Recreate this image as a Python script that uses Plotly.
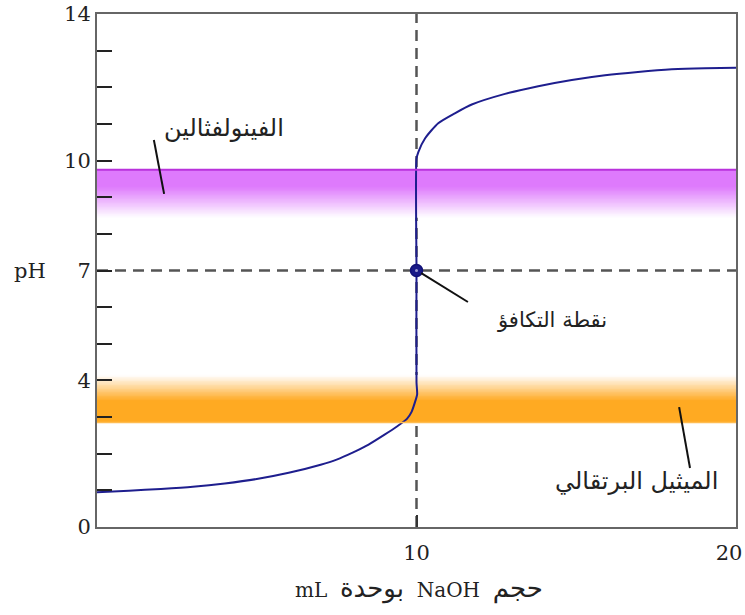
import plotly.graph_objects as go

# ---------------- data ----------------
volume_ml = [0, 1, 2, 3, 4, 5, 6, 7, 7.5, 8, 8.5, 9, 9.4, 9.7, 9.85, 9.95, 10.02, 10.0,
             10.0, 10.0, 10.06, 10.27, 10.68, 11.2, 11.73, 12.77, 13.81, 14.86, 15.9,
             16.93, 17.99, 19.03, 20]
ph_values = [0.95, 0.99, 1.04, 1.10, 1.19, 1.31, 1.48, 1.70, 1.84, 2.03, 2.25, 2.52, 2.75,
             2.95, 3.15, 3.40, 3.62, 3.95,
             7.0, 10.05, 10.24, 10.61, 11.02, 11.29, 11.53, 11.82, 12.03, 12.20, 12.33,
             12.42, 12.49, 12.52, 12.53]

equivalence_volume = [10]
equivalence_ph = [7]

y_tick_vals = list(range(0, 15))
y_tick_text = ["0", "", "", "", "4", "", "", "7", "", "", "10", "", "", "", "14"]
x_tick_vals = [10]
x_tick_text = ["10"]
x_end_tick_vals = [20]
x_end_tick_text = ["20"]

indicator_names = ["الفينولفثالين", "الميثيل البرتقالي"]
indicator_solid_edge = [9.75, 2.85]   # pH where the colour is strongest
indicator_solid_end = [9.30, 3.45]    # pH where fading starts
indicator_fade_edge = [8.45, 4.15]    # pH where colour vanishes
indicator_rgb = [(222, 122, 252), (255, 170, 34)]
equivalence_label = "نقطة التكافؤ"
y_title = "pH"

# ---------------- figure ----------------
fig = go.Figure()

# gradient bands drawn as smooth one-column heatmaps
n_steps = 60
for k in range(len(indicator_names)):
    r, g, b = indicator_rgb[k]
    s_edge, s_end, f_edge = indicator_solid_edge[k], indicator_solid_end[k], indicator_fade_edge[k]
    lo, hi = min(s_edge, f_edge), max(s_edge, f_edge)
    edges = [lo + (hi - lo) * i / n_steps for i in range(n_steps + 1)]
    z = []
    for i in range(n_steps):
        yc = 0.5 * (edges[i] + edges[i + 1])
        d = abs(yc - s_edge)
        solid = abs(s_end - s_edge)
        fade = abs(f_edge - s_end)
        val = 1.0 if d <= solid else max(0.0, 1 - (d - solid) / fade)
        z.append([val])
    fig.add_trace(go.Heatmap(x=[0, 20], y=edges, z=z, zmin=0, zmax=1,
                             colorscale=[[0, "rgb(255,255,255)"], [1, f"rgb({r},{g},{b})"]],
                             showscale=False, hoverinfo="skip", zsmooth="best"))

shapes = []
# edge lines of the bands
shapes.append(dict(type="line", xref="x", yref="y", x0=0, x1=20,
                   y0=indicator_solid_edge[0], y1=indicator_solid_edge[0],
                   line=dict(color="rgb(185,50,220)", width=2)))
shapes.append(dict(type="line", xref="x", yref="y", x0=0, x1=20,
                   y0=indicator_solid_edge[1], y1=indicator_solid_edge[1],
                   line=dict(color="rgb(255,188,80)", width=1.5)))

# dashed guide lines
dash_style = dict(color="#555555", width=2.5, dash="11px,7px")
shapes.append(dict(type="line", xref="x", yref="y", x0=equivalence_volume[0], x1=equivalence_volume[0],
                   y0=0, y1=14, line=dash_style, layer="below"))
shapes.append(dict(type="line", xref="x", yref="y", x0=0, x1=20,
                   y0=equivalence_ph[0], y1=equivalence_ph[0], line=dash_style, layer="below"))

# callout lines
callout = dict(color="#111111", width=2)
shapes.append(dict(type="line", xref="x", yref="y", x0=1.78, y0=10.56, x1=2.10, y1=9.09, line=callout))
shapes.append(dict(type="line", xref="x", yref="y", x0=10.15, y0=6.93, x1=11.61, y1=6.14, line=callout))
shapes.append(dict(type="line", xref="x", yref="y", x0=18.22, y0=3.27, x1=18.56, y1=1.61, line=callout))

fig.add_trace(go.Scatter(x=volume_ml, y=ph_values, mode="lines",
                         line=dict(color="#1e1e8e", width=2, shape="spline", smoothing=0.6),
                         hoverinfo="skip", showlegend=False))
# same curve on the overlay axis (invisible) so the second x axis is drawn
fig.add_trace(go.Scatter(x=volume_ml, y=ph_values, mode="lines", xaxis="x2",
                         line=dict(color="rgba(0,0,0,0)", width=0),
                         hoverinfo="skip", showlegend=False))
fig.add_trace(go.Scatter(x=equivalence_volume, y=equivalence_ph, mode="markers",
                         marker=dict(size=12, color="#1a1a88",
                                     line=dict(color="#111177", width=1.5)),
                         showlegend=False))
fig.add_trace(go.Scatter(x=equivalence_volume, y=equivalence_ph, mode="markers",
                         marker=dict(size=3, color="#9a9ad0"), showlegend=False))

arabic_font = dict(family="DejaVu Sans", size=24, color="#222222")
latin = "font-family:'DejaVu Serif';font-size:20px"
arab = "font-family:'DejaVu Sans';font-size:26px"
x_title = (f"<span style=\"{latin}\">mL</span>\u00a0 <span style=\"{arab}\">بوحدة</span>\u00a0 "
           f"<span style=\"{latin}\">NaOH</span>\u00a0 <span style=\"{arab}\">حجم</span>")

annotations = [
    dict(x=3.97, y=10.89, xref="x", yref="y", text=indicator_names[0], showarrow=False,
         font=arabic_font),
    dict(x=14.25, y=5.65, xref="x", yref="y", text=equivalence_label, showarrow=False,
         font=dict(family="DejaVu Sans", size=21, color="#222222")),
    dict(x=16.87, y=1.26, xref="x", yref="y", text=indicator_names[1], showarrow=False,
         font=arabic_font),
    dict(x=(30 - 97) / 639, y=7, xref="paper", yref="y", xanchor="center", text=y_title,
         showarrow=False, font=dict(family="DejaVu Serif", size=21, color="#222222")),
    dict(x=(419 - 97) / 639, y=(527 - 588) / 513, xref="paper", yref="paper",
         yanchor="middle", text=x_title, showarrow=False,
         font=dict(family="DejaVu Serif", size=20, color="#222222")),
]

tick_font = dict(family="DejaVu Serif", size=21, color="#222222")
fig.update_layout(
    width=745, height=615,
    margin=dict(l=97, r=9, t=14, b=88, autoexpand=False),
    plot_bgcolor="white", paper_bgcolor="white",
    shapes=shapes, annotations=annotations,
    showlegend=False,
    xaxis=dict(range=[0, 20], tickvals=x_tick_vals, ticktext=x_tick_text,
               ticks="inside", ticklen=12, tickwidth=2, tickcolor="#333333",
               showline=True, linecolor="#666666", linewidth=2, mirror=True,
               showgrid=False, zeroline=False, automargin=False,
               ticklabeloverflow="allow", ticklabelstandoff=6, tickfont=tick_font),
    xaxis2=dict(overlaying="x", anchor="y", side="bottom", range=[0, 20],
                tickvals=x_end_tick_vals, ticktext=x_end_tick_text,
                ticks="inside", ticklen=12, tickwidth=2, tickcolor="#333333",
                showline=False, showgrid=False, zeroline=False, automargin=False,
                ticklabelshift=-7, ticklabelstandoff=11, ticklabeloverflow="allow",
                tickfont=tick_font),
    yaxis=dict(range=[0, 14], tickvals=y_tick_vals, ticktext=y_tick_text,
               ticks="inside", ticklen=15, tickwidth=2, tickcolor="#222222",
               showline=True, linecolor="#666666", linewidth=2, mirror=True,
               showgrid=False, zeroline=False, automargin=False,
               ticklabeloverflow="allow", tickfont=tick_font),
)

fig.write_html("out.html", config={"displayModeBar": False},
               post_script="document.body.style.margin='0';document.body.style.overflow='hidden';")
